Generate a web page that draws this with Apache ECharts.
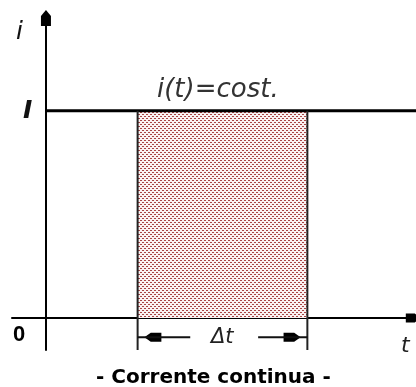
<!DOCTYPE html>
<html>
<head>
    <meta charset="utf-8">
    <title>Corrente continua</title>
    <script src="https://cdn.jsdelivr.net/npm/echarts@6/dist/echarts.min.js"></script>
    <style>
        html, body { margin: 0; padding: 0; background: #fff; }
        #chart1 { width: 416px; height: 387px; }
    </style>
</head>
<body>
<div id="chart1"></div>
<script type="text/javascript">
    // dati del grafico (unita arbitrarie)
    var xRange = [-1, 10.9];
    var yRange = [-1, 9.6];
    var correnteI = 6.5;          // valore costante della corrente
    var intervallo = [2.7, 7.7];  // inizio e fine di delta t
    var frecciaY = -0.6;          // quota delle frecce di delta t
    var frecciaSx = [2.7, 4.25];  // tratto sinistro
    var frecciaDx = [6.25, 7.7];  // tratto destro
    var punteX = [3.15, 7.25];    // centri delle punte di freccia
    var punteRot = [90, -90];     // sinistra, destra

    // punta "a casetta" piena, orientata verso l'alto
    var punta = 'path://M5,0 L10,6 L10,16 L0,16 L0,6 Z';

    // trama a puntini per l'area Q
    var tile = document.createElement('canvas');
    tile.width = 4;
    tile.height = 4;
    var ctx = tile.getContext('2d');
    ctx.fillStyle = '#fbf2f2';
    ctx.fillRect(0, 0, 4, 4);
    ctx.fillStyle = '#a84444';
    ctx.fillRect(0, 0, 2, 1);
    ctx.fillRect(2, 2, 2, 1);

    function testo(x, y, t, size, opt) {
        opt = opt || {};
        return {
            type: 'text', left: x, top: y,
            style: {
                text: t, fontSize: size,
                fontFamily: opt.family || 'DejaVu Sans',
                fontStyle: opt.style || 'italic',
                fontWeight: opt.weight || 'normal',
                fill: opt.color || '#111'
            }
        };
    }

    var myChart1 = echarts.init(document.getElementById('chart1'));

    myChart1.setOption({
        animation: false,
        grid: { left: 12, right: 0, top: 12, bottom: 37 },
        xAxis: {
            type: 'value', min: xRange[0], max: xRange[1],
            splitLine: { show: false }, axisTick: { show: false }, axisLabel: { show: false },
            axisLine: { onZero: true, lineStyle: { color: '#000', width: 2 },
                symbol: ['none', punta], symbolSize: [9, 16], symbolOffset: [0, -3] }
        },
        yAxis: {
            type: 'value', min: yRange[0], max: yRange[1],
            splitLine: { show: false }, axisTick: { show: false }, axisLabel: { show: false },
            axisLine: { onZero: true, lineStyle: { color: '#000', width: 2 },
                symbol: ['none', punta], symbolSize: [10, 17], symbolOffset: [0, -6] }
        },
        series: [
            {
                // area Q
                type: 'line', symbol: 'none', silent: true,
                data: [[intervallo[0], correnteI], [intervallo[1], correnteI]],
                lineStyle: { width: 0 },
                areaStyle: { color: { image: tile, repeat: 'repeat' }, opacity: 1, origin: 0 }
            },
            {
                // i(t) = I
                type: 'line', symbol: 'none', silent: true,
                data: [[0, correnteI], [xRange[1], correnteI]],
                lineStyle: { color: '#000', width: 3 }
            },
            {
                type: 'line', symbol: 'none', silent: true,
                data: [[intervallo[0], yRange[0]], [intervallo[0], correnteI]],
                lineStyle: { color: '#222', width: 2 }
            },
            {
                type: 'line', symbol: 'none', silent: true,
                data: [[intervallo[1], yRange[0]], [intervallo[1], correnteI]],
                lineStyle: { color: '#222', width: 2 }
            },
            {
                type: 'line', symbol: 'none', silent: true,
                data: [[frecciaSx[0], frecciaY], [frecciaSx[1], frecciaY]],
                lineStyle: { color: '#111', width: 2 }
            },
            {
                type: 'line', symbol: 'none', silent: true,
                data: [[frecciaDx[0], frecciaY], [frecciaDx[1], frecciaY]],
                lineStyle: { color: '#111', width: 2 }
            },
            {
                // punte delle frecce delta t
                type: 'scatter', silent: true,
                symbol: punta, symbolSize: [9, 17],
                itemStyle: { color: '#000', opacity: 1 },
                data: punteX.map(function (x, i) {
                    return { value: [x, frecciaY], symbolRotate: punteRot[i] };
                })
            }
        ],
        graphic: [
            testo(16, 20, 'i', 25),
            testo(23, 99, 'I', 25, { weight: 'bold' }),
            testo(157, 77, 'i(t)=cost.', 26, { color: '#333' }),
            testo(211, 199, 'Q', 31, { family: 'DejaVu Serif', weight: 'bold' }),
            testo(13, 324, '0', 22, { family: 'Liberation Sans', style: 'normal', weight: 'bold', color: '#000' }),
            testo(211, 327, 'Δt', 21, { color: '#222' }),
            testo(401, 335, 't', 22, { color: '#222' }),
            testo(96, 368, '- Corrente continua -', 20, { style: 'normal', weight: 'bold', color: '#000' })
        ]
    });
</script>
</body>
</html>
